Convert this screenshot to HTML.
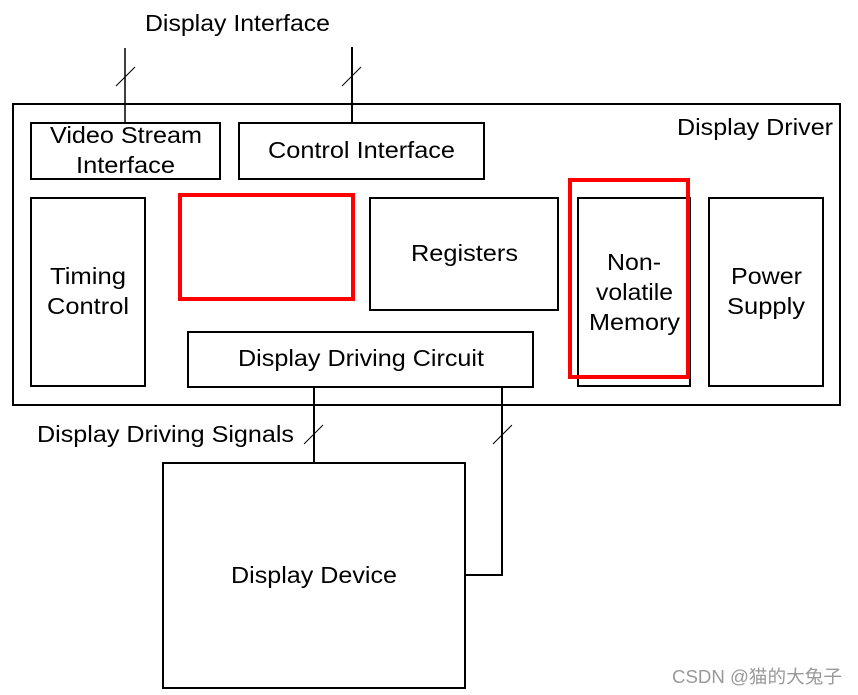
<!DOCTYPE html>
<html><head><meta charset="utf-8"><style>
html,body{margin:0;padding:0;background:#fff;}
svg{display:block;}
text{font-family:"Liberation Sans","Noto Sans CJK SC",sans-serif;font-size:23px;fill:#000;}
</style></head><body>
<svg width="858" height="695" viewBox="0 0 858 695" xmlns="http://www.w3.org/2000/svg">
<g fill="none" stroke="#000" stroke-width="2">
<rect x="13" y="104" width="827" height="301"/>
<rect x="31" y="123" width="189" height="56"/>
<rect x="239" y="123" width="245" height="56"/>
<rect x="31" y="198" width="114" height="188"/>
<rect x="370" y="198" width="188" height="112"/>
<rect x="578" y="198" width="112" height="188"/>
<rect x="709" y="198" width="114" height="188"/>
<rect x="188" y="332" width="345" height="55"/>
<rect x="163" y="463" width="302" height="225"/>
<line x1="314" y1="387" x2="314" y2="463"/>
<polyline points="502,387 502,575 465,575"/>
<line x1="125" y1="48" x2="125" y2="123" stroke-width="1.5"/>
<line x1="352" y1="47" x2="352" y2="123"/>
</g>
<g stroke="#000" stroke-width="1">
<line x1="116" y1="86" x2="135" y2="67"/>
<line x1="342" y1="86" x2="361" y2="67"/>
<line x1="304" y1="444" x2="323" y2="425"/>
<line x1="493" y1="444" x2="512" y2="425"/>
</g>
<g fill="none" stroke="#f00" stroke-width="4">
<rect x="180" y="195" width="173" height="104"/>
<rect x="570" y="180" width="118" height="197"/>
</g>
<g lengthAdjust="spacingAndGlyphs">
<text x="145" y="31" textLength="185" lengthAdjust="spacingAndGlyphs">Display Interface</text>
<text x="677" y="135" textLength="156" lengthAdjust="spacingAndGlyphs">Display Driver</text>
<text x="50" y="143" textLength="152" lengthAdjust="spacingAndGlyphs">Video Stream</text>
<text x="76" y="173" textLength="99" lengthAdjust="spacingAndGlyphs">Interface</text>
<text x="268" y="158" textLength="187" lengthAdjust="spacingAndGlyphs">Control Interface</text>
<text x="50" y="284" textLength="76" lengthAdjust="spacingAndGlyphs">Timing</text>
<text x="47" y="314" textLength="82" lengthAdjust="spacingAndGlyphs">Control</text>
<text x="411" y="261" textLength="107" lengthAdjust="spacingAndGlyphs">Registers</text>
<text x="607" y="270" textLength="54" lengthAdjust="spacingAndGlyphs">Non-</text>
<text x="596" y="300" textLength="77" lengthAdjust="spacingAndGlyphs">volatile</text>
<text x="589" y="330" textLength="91" lengthAdjust="spacingAndGlyphs">Memory</text>
<text x="731" y="284" textLength="71" lengthAdjust="spacingAndGlyphs">Power</text>
<text x="727" y="314" textLength="78" lengthAdjust="spacingAndGlyphs">Supply</text>
<text x="238" y="366" textLength="246" lengthAdjust="spacingAndGlyphs">Display Driving Circuit</text>
<text x="37" y="442" textLength="257" lengthAdjust="spacingAndGlyphs">Display Driving Signals</text>
<text x="231" y="583" textLength="166" lengthAdjust="spacingAndGlyphs">Display Device</text>
<text x="672" y="683" textLength="170" lengthAdjust="spacingAndGlyphs" style="font-size:18px;fill:#999">CSDN @猫的大兔子</text>
</g>
</svg>
</body></html>
